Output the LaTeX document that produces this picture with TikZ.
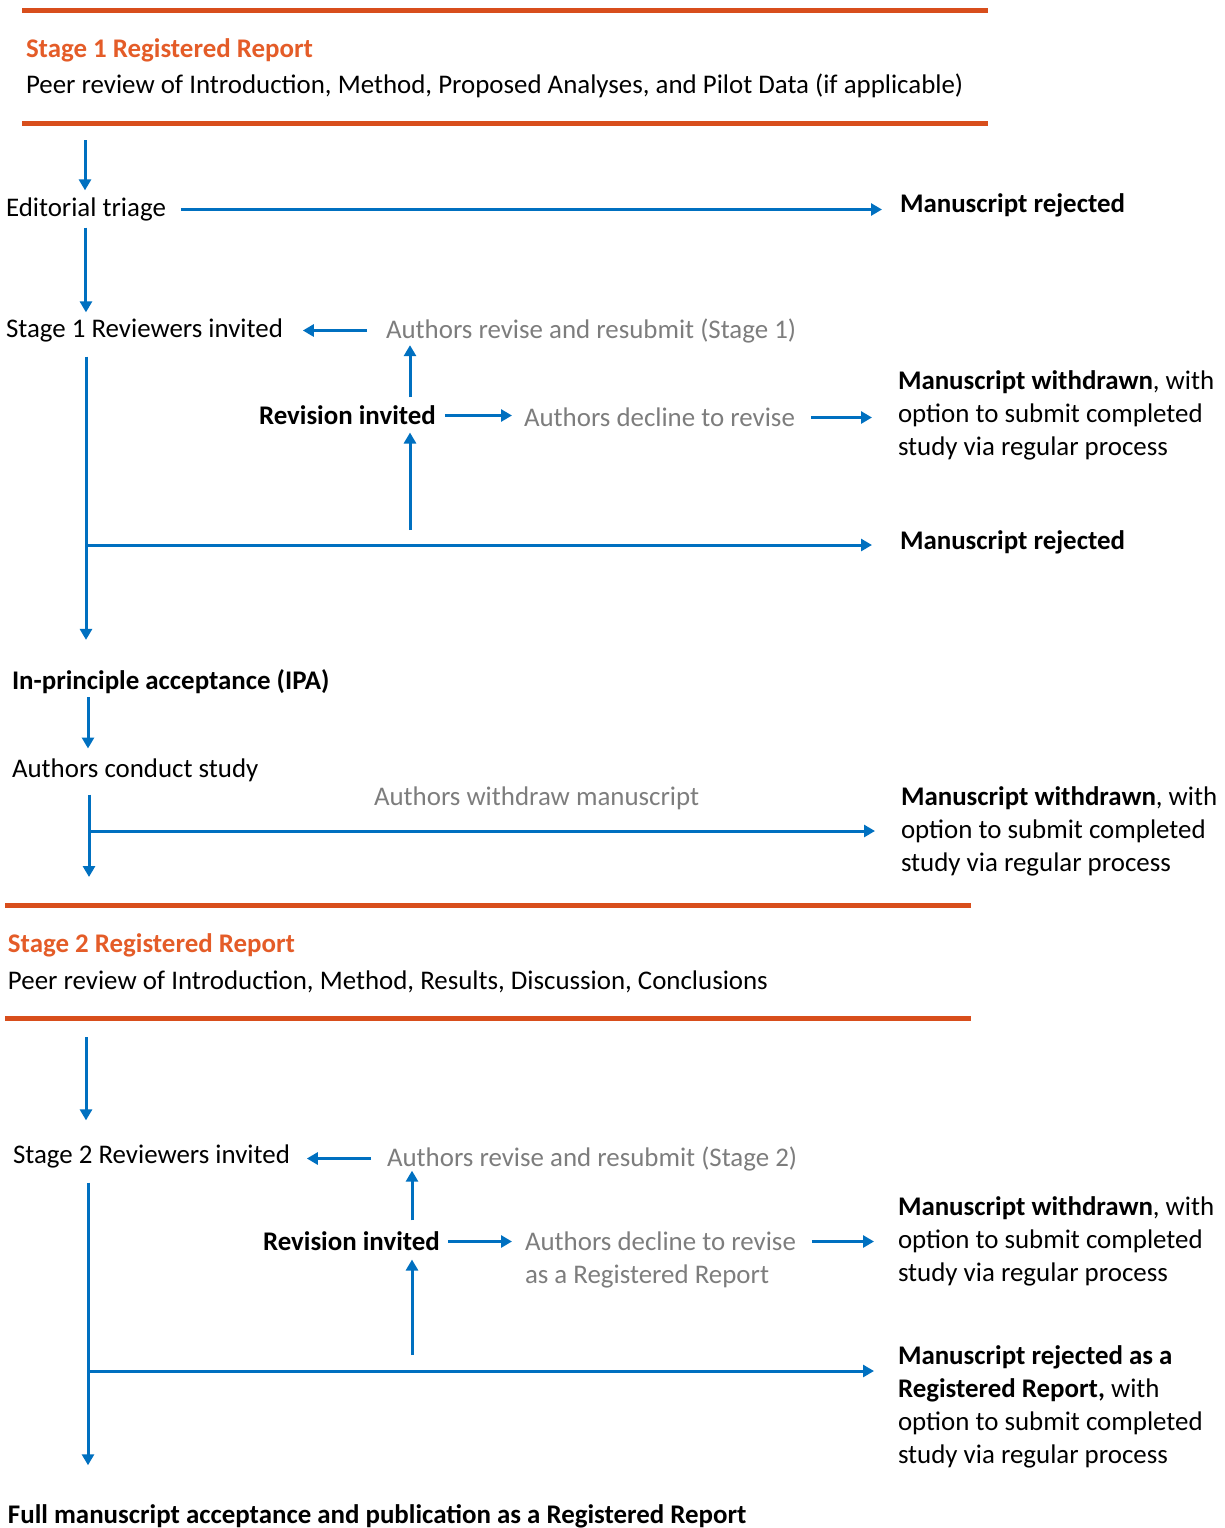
\documentclass[tikz,border=0pt]{standalone}
\usepackage{fontspec}
\setmainfont{Carlito}
\usetikzlibrary{arrows.meta,calc}
\definecolor{rrorange}{RGB}{216,78,28}
\definecolor{rrhead}{RGB}{228,92,40}
\definecolor{rrblue}{RGB}{0,112,192}
\definecolor{rrgray}{RGB}{125,125,125}
\newcommand\fsz{\fontsize{13.45}{16.5}\selectfont}
\begin{document}
\begin{tikzpicture}[x=0.5pt,y=-0.5pt,
  txt/.style={anchor=west,inner sep=0pt,outer sep=0pt,align=left,font=\fsz,yshift=-1.25pt},
  bf/.style={txt,font=\fsz\bfseries},
  gr/.style={txt,text=rrgray},
  hd/.style={bf,text=rrhead},
  arr/.style={draw=rrblue,line width=1.5pt,-{Triangle[length=5.5pt,width=6pt]}},
  bar/.style={draw=rrorange,line width=2.5pt}]
\useasboundingbox (0,0) rectangle (1225,1528);
% orange bars
\coordinate (bar1w) at (22,10);   \coordinate (bar1e) at (988,10);
\coordinate (bar2w) at (22,123);  \coordinate (bar2e) at (988,123);
\coordinate (bar3w) at (5,905);   \coordinate (bar3e) at (971,905);
\coordinate (bar4w) at (5,1018);  \coordinate (bar4e) at (971,1018);
\draw[bar] (bar1w) -- (bar1e);
\draw[bar] (bar2w) -- (bar2e);
\draw[bar] (bar3w) -- (bar3e);
\draw[bar] (bar4w) -- (bar4e);
% texts
\node[hd] (s1title) at (26,48) {Stage 1 Registered Report};
\node[txt] (s1desc) at (26,83) {Peer review of Introduction, Method, Proposed Analyses, and Pilot Data (if applicable)};
\node[txt] (triage) at (6,207) {Editorial triage};
\node[bf] (rej1) at (900,203) {Manuscript rejected};
\node[txt] (rev1) at (6,328) {Stage 1 Reviewers invited};
\node[gr] (ars1) at (386,328) {Authors revise and resubmit (Stage 1)};
\node[bf] (revinv1) at (259,413) {Revision invited};
\node[gr] (decl1) at (524,415) {Authors decline to revise};
\node[txt] (wd1) at (898,413) {\textbf{Manuscript withdrawn}, with\\option to submit completed\\study via regular process};
\node[bf] (rej2) at (900,540) {Manuscript rejected};
\node[bf] (ipa) at (12,679) {In-principle acceptance (IPA)};
\node[txt] (conduct) at (12,768) {Authors conduct study};
\node[gr] (withdraw) at (374,796) {Authors withdraw manuscript};
\node[txt] (wd2) at (901,829) {\textbf{Manuscript withdrawn}, with\\option to submit completed\\study via regular process};
\node[hd] (s2title) at (8,943) {Stage 2 Registered Report};
\node[txt] (s2desc) at (8,979) {Peer review of Introduction, Method, Results, Discussion, Conclusions};
\node[txt] (rev2) at (13,1154) {Stage 2 Reviewers invited};
\node[gr] (ars2) at (387,1156) {Authors revise and resubmit (Stage 2)};
\node[bf] (revinv2) at (263,1239) {Revision invited};
\node[gr] (decl2) at (525,1257.5) {Authors decline to revise\\as a Registered Report};
\node[txt] (wd3) at (898,1239) {\textbf{Manuscript withdrawn}, with\\option to submit completed\\study via regular process};
\node[txt] (rj3) at (898,1404) {\textbf{Manuscript rejected as a}\\\textbf{Registered Report,} with\\option to submit completed\\study via regular process};
\node[bf] (final) at (8,1514) {Full manuscript acceptance and publication as a Registered Report};
% guide coordinates
\coordinate (X1) at (86,0);
\coordinate (X2) at (88,0);
\coordinate (X3) at (89,0);
\coordinate (X4) at (86,0);
\coordinate (X5) at (88,0);
\coordinate (U1) at (410,0);
\coordinate (U2) at (412,0);
\coordinate (c1) at (85,140);
\coordinate (j1) at (86,545);
\coordinate (j2) at (89,831);
\coordinate (j3) at (88,1371);
% Stage 1
\draw[arr,shorten >=3.75pt] (c1) -- (c1 |- triage.north);
\draw[arr,shorten <=7.5pt,shorten >=9pt] (triage.east) -- (triage.east -| rej1.west);
\draw[arr,shorten <=3.25pt,shorten >=3.25pt] (triage.south) -- (triage.south |- rev1.north);
\draw[arr,shorten <=9.5pt,shorten >=10pt] (ars1.west) -- (ars1.west -| rev1.east);
\draw[arr,shorten <=4.25pt,shorten >=1.25pt] (U1 |- revinv1.north) -- (U1 |- ars1.south);
\draw[arr,shorten <=4.5pt,shorten >=6pt] (revinv1.east) -- (revinv1.east -| decl1.west);
\draw[arr,shorten <=8pt,shorten >=13pt] (decl1.east) -- (decl1.east -| wd1.west);
\draw[arr,shorten <=7.25pt,shorten >=14.75pt] (X1 |- rev1.south) -- (X1 |- ipa.north);
\draw[arr,shorten >=14pt] (j1) -- (j1 -| rej2.west);
\draw[arr,shorten <=7.5pt,shorten >=3.75pt] (j1 -| U1) -- (U1 |- revinv1.south);
\draw[arr,shorten <=1.75pt,shorten >=5.25pt] (X2 |- ipa.south) -- (X2 |- conduct.north);
\draw[arr,shorten <=6.25pt,shorten >=14pt] (X3 |- conduct.south) -- (X3 |- bar3w);
\draw[arr,shorten >=13pt] (j2) -- (j2 -| wd2.west);
% Stage 2
\draw[arr,shorten <=9.5pt,shorten >=12.25pt] (X4 |- bar4w) -- (X4 |- rev2.north);
\draw[arr,shorten <=8pt,shorten >=8.5pt] (ars2.west) -- (ars2.west -| rev2.east);
\draw[arr,shorten <=5.75pt,shorten >=0pt] (U2 |- revinv2.north) -- (U2 |- ars2.south);
\draw[arr,shorten <=4pt,shorten >=6.5pt] (revinv2.east) -- (revinv2.east -| decl2.west);
\draw[arr,shorten <=8pt,shorten >=12pt] (revinv2.east -| decl2.east) -- (revinv2.east -| wd3.west);
\draw[arr,shorten <=7.25pt,shorten >=19.75pt] (X5 |- rev2.south) -- (X5 |- final.north);
\draw[arr,shorten >=12pt] (j3) -- (j3 -| rj3.west);
\draw[arr,shorten <=8pt,shorten >=4.25pt] (j3 -| U2) -- (U2 |- revinv2.south);
\end{tikzpicture}
\end{document}
